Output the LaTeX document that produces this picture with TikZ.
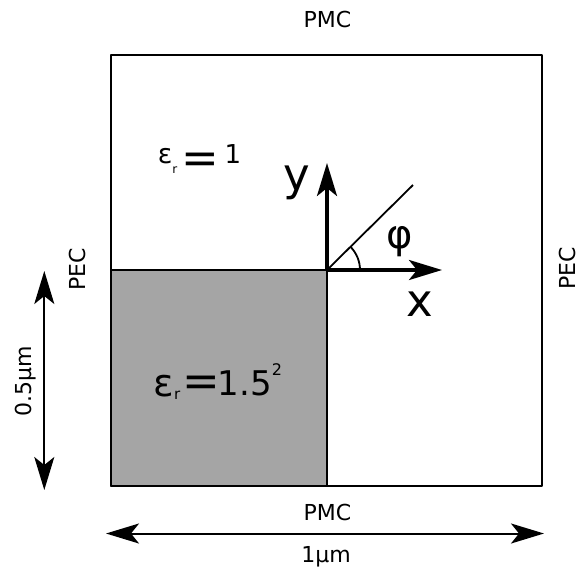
\documentclass[tikz,border=0pt]{standalone}
\usepackage{fontspec}
\setmainfont{DejaVu Sans}
\usetikzlibrary{arrows.meta}
\definecolor{dielgray}{RGB}{165,165,165}
\begin{document}
\begin{tikzpicture}[x=1pt, y=-1pt, line join=round, >={Stealth[length=33pt,width=20pt,inset=8pt]},
	lbl/.style={font=\fontsize{22}{24}\selectfont, inner sep=0pt},
	axlbl/.style={font=\fontsize{45}{48}\selectfont, inner sep=0pt},
	sz/.style={font=\fontsize{#1}{#1}\selectfont, inner sep=0pt}]
	\useasboundingbox (0,0) rectangle (579,574);
	\def\side{431} % cạnh hình vuông
	\def\half{216} % nửa cạnh
	% vùng tính toán
	\draw[line width=2.5pt] (111,55) rectangle +(\side,\side);
	\draw[line width=2.5pt, fill=dielgray] (111,270) rectangle +(\half,\half);
	% hệ trục
	\coordinate (O) at (327,270);
	\coordinate (xtip) at (442,270);
	\coordinate (ytip) at (327,163);
	\coordinate (dtip) at (413,185);
	\draw[line width=3.5pt, ->] (O)--(xtip);
	\draw[line width=3.5pt, ->] (O)--(ytip);
	\draw[line width=1.8pt] (O)--(dtip);
	\draw[line width=1.8pt] (O) ++(33,0) arc[start angle=0, end angle=-45, radius=33];
	% kích thước
	\coordinate (vT) at (44.3,271);
	\coordinate (vB) at (44.3,490);
	\coordinate (hL) at (106,533.5);
	\coordinate (hR) at (544,533.5);
	\draw[line width=2pt, <->] (vT)--(vB);
	\draw[line width=2pt, <->] (hL)--(hR);
	\path 
	(327.5,27.3) node[lbl, anchor=base] (pmcT) {PMC}
	(327.5,520.7) node[lbl, anchor=base] (pmcB) {PMC}
	(326,562.7) node[lbl, anchor=base] (lenH) {1μm}
	(85,269.5) node[lbl, anchor=base, rotate=90] (pecL) {PEC}
	(575,268) node[lbl, anchor=base, rotate=90] (pecR) {PEC}
	(31.7,380.8) node[lbl, anchor=base, rotate=90] (lenV) {0.5μm}
	(420,304) node[axlbl] (lx) {x}
	(296.5,182.5) node[axlbl] (ly) {y}
	(399.5,241.5) node[axlbl, font=\fontsize{40}{44}\selectfont] (lphi) {φ};
	% εr = 1
	\path 
	(157.7,163.3) node[sz=27, anchor=base west] (epsA) {ε\raisebox{-10pt}{\fontsize{12}{12}\selectfont r}}
	(200,153.3) node[sz=45, anchor=north] (epsAeq) {=}
	(233,163.3) node[sz=26, anchor=base] (epsAval) {1};
	% εr = 1.5^2
	\path 
	(153.5,396) node[sz=38, anchor=base west] (epsB) {ε\raisebox{-3pt}{\fontsize{15}{15}\selectfont r}}
	(201.3,376) node[sz=45, anchor=north] (epsBeq) {=}
	(217.5,395) node[sz=34, anchor=base west] (epsBval) {1.5\raisebox{20pt}{\fontsize{16}{16}\selectfont 2}};
\end{tikzpicture}
\end{document}
